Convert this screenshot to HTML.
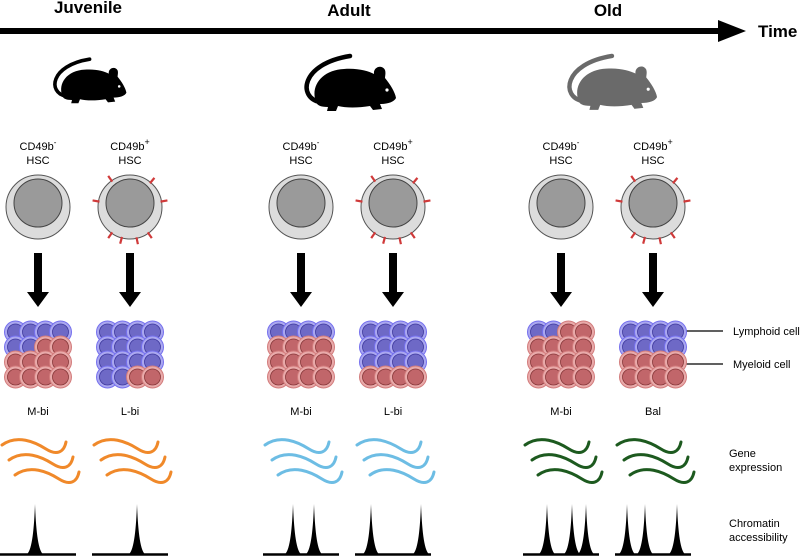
<!DOCTYPE html>
<html><head><meta charset="utf-8"><style>
html,body{margin:0;padding:0;background:#fff;}
svg{display:block;}
text{font-family:"Liberation Sans",Arial,sans-serif;}
</style></head><body>
<svg id="s" width="800" height="556" viewBox="0 0 800 556" xmlns="http://www.w3.org/2000/svg">
<defs>
<g id="mouse">
<path d="M22 50 C0 46 2 12 52 4" fill="none" stroke-width="4.5" stroke-linecap="round"/>
<path d="M18 50 C12 34 24 18 46 17 C60 16 70 19 76 22 C75 15 84 12 87 18 C88 21 87 24 87 26 C92 32 97 40 98 46 C96 50 90 52 82 52 L84 57 L75 58 L72 54 C60 56 48 56 40 54 L38 59 L29 59 L30 55 C22 55 19 53 18 50 Z" stroke="none"/>
<circle cx="89" cy="38" r="1.6" fill="#fff" stroke="none"/>
</g>
</defs>
<rect x="0" y="28" width="722" height="6" fill="#000"/>
<polygon points="718,20 746,31 718,42" fill="#000"/>
<text x="88" y="13" font-size="17" font-weight="bold" text-anchor="middle">Juvenile</text>
<text x="349" y="16" font-size="17" font-weight="bold" text-anchor="middle">Adult</text>
<text x="608" y="16" font-size="17" font-weight="bold" text-anchor="middle">Old</text>
<text x="758" y="37" font-size="17" font-weight="bold">Time</text>
<g transform="translate(48,56) scale(0.8)" fill="#000" stroke="#000"><use href="#mouse"/></g>
<g transform="translate(298,52)" fill="#000" stroke="#000"><use href="#mouse"/></g>
<g transform="translate(561,52) scale(0.98)" fill="#6a6a6a" stroke="#6a6a6a"><use href="#mouse"/></g>
<g font-size="11" text-anchor="middle">
<text x="38" y="150">CD49b<tspan font-size="8" dy="-5">-</tspan></text><text x="38" y="164">HSC</text>
<text x="130" y="150">CD49b<tspan font-size="9" dy="-5">+</tspan></text><text x="130" y="164">HSC</text>
<text x="301" y="150">CD49b<tspan font-size="8" dy="-5">-</tspan></text><text x="301" y="164">HSC</text>
<text x="393" y="150">CD49b<tspan font-size="9" dy="-5">+</tspan></text><text x="393" y="164">HSC</text>
<text x="561" y="150">CD49b<tspan font-size="8" dy="-5">-</tspan></text><text x="561" y="164">HSC</text>
<text x="653" y="150">CD49b<tspan font-size="9" dy="-5">+</tspan></text><text x="653" y="164">HSC</text>
<text x="38" y="415">M-bi</text><text x="130" y="415">L-bi</text>
<text x="301" y="415">M-bi</text><text x="393" y="415">L-bi</text>
<text x="561" y="415">M-bi</text><text x="653" y="415">Bal</text>
</g>
<g font-size="11">
<text x="733" y="335">Lymphoid cell</text>
<text x="733" y="368">Myeloid cell</text>
<text x="729" y="457">Gene</text><text x="729" y="471">expression</text>
<text x="729" y="527">Chromatin</text><text x="729" y="541">accessibility</text>
</g>
<line x1="686" y1="331" x2="723" y2="331" stroke="#000" stroke-width="1.2"/>
<line x1="686" y1="364" x2="723" y2="364" stroke="#000" stroke-width="1.2"/>
<g id="dyn"></g>
</svg>
<script>
var NS="http://www.w3.org/2000/svg",g=document.getElementById("dyn");
function el(t,a){var e=document.createElementNS(NS,t);for(var k in a)e.setAttribute(k,a[k]);g.appendChild(e);return e;}
var cols=[38,130,301,393,561,653];
var comp=["BBBBBBRRRRRRRRRR","BBBBBBBBBBBBBBRR","BBBBRRRRRRRRRRRR","BBBBBBBBBBBBRRRR","BBRRRRRRRRRRRRRR","BBBBBBBBRRRRRRRR"];
var waveC=["#f0892a","#f0892a","#6dbde4","#6dbde4","#1d5a1f","#1d5a1f"];
var peaks=[[35],[137],[293,314],[371,421],[547,572,586],[627,645,677]];
cols.forEach(function(c,i){
 var cy=207;
 el("circle",{cx:c,cy:cy,r:32,fill:"#dcdcdc",stroke:"#555","stroke-width":1});
 el("circle",{cx:c,cy:cy-4,r:24,fill:"#9a9a9a",stroke:"#444","stroke-width":1});
 if(i%2==1){[-35,40,80,-80,145,168,195,215].forEach(function(a){var r=a*Math.PI/180;
  el("line",{x1:c+Math.sin(r)*31,y1:cy-Math.cos(r)*31,x2:c+Math.sin(r)*38,y2:cy-Math.cos(r)*38,stroke:"#d03a3a","stroke-width":2.2});});}
 el("rect",{x:c-4,y:253,width:8,height:40,fill:"#000"});
 el("polygon",{points:(c-11)+",292 "+(c+11)+",292 "+c+",307",fill:"#000"});
 for(var r=0;r<4;r++)for(var k=0;k<4;k++){var t=comp[i][r*4+k],x=c-22.5+k*15,y=332+r*15;
  if(t=="B"){el("circle",{cx:x,cy:y,r:11,fill:"#aba8f0",stroke:"#7570ee","stroke-width":1});el("circle",{cx:x,cy:y,r:8,fill:"#6e69c6",stroke:"#3d389c","stroke-width":0.8});}
  else{el("circle",{cx:x,cy:y,r:11,fill:"#e9aaaa",stroke:"#d27c7c","stroke-width":1});el("circle",{cx:x,cy:y,r:8,fill:"#c1666a",stroke:"#873739","stroke-width":0.8});}}
 var x0=c-36,y0=440;
 [[0,0],[7,15],[13,30]].forEach(function(o){var x=x0+o[0],y=y0+o[1];
  el("path",{d:"M"+x+" "+(y+5)+" C"+(x+15)+" "+(y-6)+" "+(x+33)+" "+(y+2)+" "+(x+44)+" "+(y+9)+" S"+(x+62)+" "+(y+12)+" "+(x+64)+" "+(y+2),fill:"none",stroke:waveC[i],"stroke-width":3,"stroke-linecap":"round"});});
 el("line",{x1:c-38,y1:554.5,x2:c+38,y2:554.5,stroke:"#000","stroke-width":2.5});
 peaks[i].forEach(function(p){el("path",{d:"M"+(p-9)+" 555 C"+(p-3)+" 552 "+(p-1)+" 530 "+p+" 504 C"+(p+1)+" 530 "+(p+3)+" 552 "+(p+9)+" 555 Z",fill:"#000"});});
});
</script>
</body></html>
